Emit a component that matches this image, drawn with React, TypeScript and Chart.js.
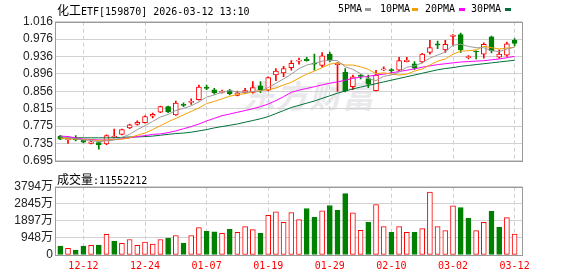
import React, { useEffect, useRef } from 'react';
import { Chart, registerables } from 'chart.js';
Chart.register(...registerables);

// ---- data ----
const dates = [
  '12-09','12-10','12-11','12-12','12-15','12-16','12-17','12-18','12-19','12-22',
  '12-23','12-24','12-25','12-26','12-29','12-30','12-31','01-05','01-06','01-07',
  '01-08','01-09','01-12','01-13','01-14','01-15','01-16','01-19','01-20','01-21',
  '01-22','01-23','01-26','01-27','01-28','01-29','01-30','02-02','02-03','02-04',
  '02-05','02-06','02-09','02-10','02-11','02-12','02-13','02-24','02-25','02-26',
  '02-27','03-02','03-03','03-04','03-05','03-06','03-09','03-10','03-11','03-12',
];
const tickDates = ['12-12','12-24','01-07','01-19','01-29','02-10','03-02','03-12'];

const openP = [
  0.752,0.744,0.748,0.743,0.735,0.737,0.734,0.749,0.756,0.771,
  0.779,0.783,0.798,0.807,0.820,0.801,0.825,0.830,0.836,0.865,
  0.859,0.853,0.857,0.846,0.853,0.853,0.868,0.858,0.893,0.898,
  0.910,0.925,0.929,0.920,0.915,0.941,0.917,0.900,0.866,0.891,
  0.885,0.857,0.905,0.905,0.904,0.924,0.919,0.923,0.945,0.965,
  0.951,0.982,0.986,0.933,0.948,0.941,0.981,0.934,0.939,0.973,
];
const highP = [
  0.754,0.746,0.753,0.744,0.740,0.738,0.755,0.768,0.768,0.780,
  0.787,0.799,0.805,0.821,0.821,0.833,0.829,0.838,0.870,0.870,
  0.862,0.858,0.860,0.856,0.862,0.878,0.878,0.889,0.908,0.913,
  0.926,0.932,0.934,0.941,0.945,0.946,0.922,0.908,0.893,0.894,
  0.893,0.904,0.912,0.908,0.934,0.934,0.924,0.943,0.973,0.971,
  0.973,0.986,0.990,0.938,0.949,0.967,0.983,0.951,0.969,0.977,
];
const lowP = [
  0.744,0.735,0.741,0.736,0.734,0.722,0.732,0.748,0.755,0.769,
  0.777,0.782,0.794,0.806,0.806,0.800,0.820,0.825,0.835,0.859,
  0.849,0.851,0.847,0.845,0.850,0.851,0.852,0.856,0.880,0.889,
  0.904,0.918,0.925,0.904,0.911,0.923,0.855,0.854,0.859,0.884,
  0.864,0.856,0.903,0.898,0.903,0.923,0.906,0.921,0.941,0.954,
  0.945,0.960,0.945,0.930,0.930,0.932,0.944,0.932,0.936,0.960,
];
const closeP = [
  0.745,0.745,0.743,0.738,0.739,0.732,0.753,0.752,0.767,0.778,
  0.784,0.797,0.802,0.820,0.808,0.828,0.823,0.832,0.865,0.862,
  0.852,0.854,0.850,0.852,0.857,0.864,0.859,0.887,0.902,0.908,
  0.920,0.927,0.926,0.918,0.937,0.928,0.920,0.856,0.889,0.890,
  0.872,0.893,0.907,0.903,0.926,0.927,0.909,0.941,0.956,0.962,
  0.964,0.985,0.951,0.934,0.946,0.964,0.949,0.941,0.965,0.966,
];
// volume in 万
const volume = [
  495,368,275,495,532,550,1155,770,642,862,
  532,715,605,862,935,1082,660,1082,1522,1320,
  1283,1210,1430,1265,1577,1412,1210,2200,2402,1815,
  2350,1962,2585,2090,2457,2750,2475,3410,2347,1375,
  1815,2805,1577,1265,1577,1265,1265,1467,3502,1577,
  1357,2732,2640,2035,1357,1815,2420,1540,2072,1155.2212,
];
const ma5 = [
  0.750,0.748,0.746,0.743,0.742,0.739,0.741,0.743,0.749,0.756,
  0.767,0.776,0.786,0.796,0.802,0.811,0.816,0.822,0.831,0.842,
  0.847,0.853,0.857,0.854,0.853,0.855,0.856,0.864,0.874,0.884,
  0.895,0.908,0.916,0.920,0.925,0.927,0.926,0.912,0.906,0.896,
  0.885,0.880,0.890,0.893,0.900,0.911,0.914,0.921,0.932,0.939,
  0.946,0.962,0.964,0.959,0.956,0.956,0.949,0.947,0.953,0.957,
];
const ma10 = [
  0.747,0.746,0.745,0.744,0.743,0.742,0.743,0.744,0.745,0.748,
  0.754,0.759,0.767,0.776,0.785,0.793,0.801,0.809,0.817,0.827,
  0.832,0.838,0.844,0.848,0.850,0.854,0.857,0.859,0.863,0.870,
  0.876,0.886,0.895,0.902,0.910,0.918,0.921,0.916,0.916,0.912,
  0.906,0.896,0.898,0.895,0.893,0.895,0.902,0.907,0.916,0.925,
  0.930,0.941,0.948,0.949,0.951,0.959,0.956,0.953,0.955,0.957,
];
const ma20 = [
  0.752,0.751,0.748,0.745,0.744,0.743,0.743,0.744,0.746,0.748,
  0.751,0.753,0.756,0.757,0.760,0.764,0.769,0.774,0.780,0.787,
  0.793,0.799,0.803,0.807,0.811,0.815,0.820,0.826,0.834,0.843,
  0.853,0.858,0.862,0.866,0.870,0.874,0.877,0.881,0.885,0.888,
  0.890,0.893,0.895,0.898,0.901,0.904,0.907,0.911,0.914,0.917,
  0.919,0.921,0.923,0.924,0.925,0.926,0.928,0.930,0.933,0.936,
];
const ma30 = [
  0.748,0.748,0.748,0.748,0.748,0.748,0.748,0.748,0.749,0.750,
  0.750,0.751,0.752,0.754,0.756,0.758,0.759,0.761,0.764,0.767,
  0.771,0.774,0.777,0.780,0.784,0.788,0.792,0.797,0.804,0.811,
  0.818,0.823,0.828,0.833,0.839,0.845,0.851,0.856,0.861,0.865,
  0.869,0.873,0.877,0.881,0.885,0.889,0.893,0.897,0.901,0.905,
  0.908,0.910,0.913,0.915,0.917,0.919,0.921,0.923,0.925,0.927,
];
const priceTicks = ['0.695','0.735','0.775','0.815','0.856','0.896','0.936','0.976','1.016'];
const volTicks = ['0','948万','1897万','2845万','3794万'];

// ---- styling ----
const RED = '#ff0000';
const GREEN = '#008000';
const C_MA5 = '#9a9a9a';
const C_MA10 = '#f5a000';
const C_MA20 = '#ff00ff';
const C_MA30 = '#00703a';
const MONO = '"DejaVu Sans Mono", "Liberation Mono", monospace';
const SANS = '"Liberation Sans", "Noto Sans CJK SC", sans-serif';
const CJK = '"Noto Sans CJK SC", sans-serif';

const framePlugin = {
  id: 'frame',
  afterDraw(chart: any) {
    const { ctx, chartArea } = chart;
    const l = Math.round(chartArea.left) + 0.5;
    const t = Math.round(chartArea.top) + 0.5;
    const r = Math.round(chartArea.right) + 0.5;
    const b = Math.round(chartArea.bottom) + 0.5;
    ctx.save();
    ctx.strokeStyle = '#9a9a9a';
    ctx.lineWidth = 1;
    ctx.strokeRect(l, t, r - l, b - t);
    ctx.restore();
  },
};

const tickIdx = tickDates.map((d) => dates.indexOf(d));
const idx = dates.map((_, i) => i);
const candleUp = idx.map((i) => closeP[i] >= openP[i]);
const volUp = idx.map((i) => i > 0 && closeP[i] >= closeP[i - 1]);

const xScaleBase = (showLabels: boolean, h: number) => ({
  type: 'linear' as const,
  min: -0.69,
  max: 60.0,
  offset: false,
  afterBuildTicks: (s: any) => {
    s.ticks = tickIdx.map((v) => ({ value: v }));
  },
  afterFit: (s: any) => {
    s.height = h;
  },
  ticks: {
    display: showLabels,
    autoSkip: false,
    maxRotation: 0,
    padding: 5,
    color: RED,
    font: { family: MONO, size: 10 },
    callback: (v: any) => dates[v as number],
  },
  grid: { color: '#cfcfcf', drawTicks: false, tickLength: 0, offset: false },
  border: { display: false, dash: [4, 3] },
});

const yScaleBase = (min: number, max: number, labels: string[]) => ({
  min,
  max,
  afterBuildTicks: (s: any) => {
    s.ticks = labels.map((_, k) => ({ value: min + (k * (max - min)) / (labels.length - 1) }));
  },
  afterFit: (s: any) => {
    s.width = 55;
  },
  ticks: {
    autoSkip: false,
    padding: 2,
    color: '#222',
    font: { family: SANS, size: 12 },
    callback: (_v: any, i: number) => labels[i],
  },
  grid: { color: '#d2d2d2', drawTicks: false, tickLength: 0 },
  border: { display: false },
});

export default function App() {
  const priceRef = useRef<HTMLCanvasElement | null>(null);
  const volRef = useRef<HTMLCanvasElement | null>(null);

  useEffect(() => {
    document.body.style.margin = '0';
    const line = (data: number[], color: string) => ({
      type: 'line' as const,
      data: data.map((v, i) => ({ x: i, y: v })),
      borderColor: color,
      borderWidth: 1,
      pointRadius: 0,
      tension: 0,
      order: 1,
    });
    const price = new Chart(priceRef.current as HTMLCanvasElement, {
      type: 'bar',
      data: {
        datasets: [
          line(ma5, C_MA5),
          line(ma10, C_MA10),
          line(ma20, C_MA20),
          line(ma30, C_MA30),
          {
            type: 'bar',
            data: idx.map((i) => ({ x: i, y: [openP[i], closeP[i]] })),
            backgroundColor: idx.map((i) => (candleUp[i] ? '#ffffff' : GREEN)),
            borderColor: idx.map((i) => (candleUp[i] ? RED : GREEN)),
            borderWidth: 1,
            borderSkipped: false,
            barThickness: 5,
            grouped: false,
            minBarLength: 1,
            order: 5,
          } as any,
          {
            type: 'bar',
            data: idx.map((i) => ({ x: i, y: [lowP[i], highP[i]] })),
            backgroundColor: idx.map((i) => (candleUp[i] ? RED : GREEN)),
            borderWidth: 0,
            barThickness: 1,
            grouped: false,
            minBarLength: 1,
            order: 6,
          } as any,
        ],
      },
      options: {
        animation: false,
        responsive: false,
        maintainAspectRatio: false,
        layout: { padding: { top: 21.7, right: 55.7, bottom: 5.3, left: 0 } },
        plugins: { legend: { display: false }, tooltip: { enabled: false } },
        scales: {
          x: xScaleBase(false, 0) as any,
          y: yScaleBase(0.695, 1.016, priceTicks) as any,
        },
      },
      plugins: [framePlugin],
    });

    const vol = new Chart(volRef.current as HTMLCanvasElement, {
      type: 'bar',
      data: {
        datasets: [
          {
            data: idx.map((i) => ({ x: i, y: volume[i] })),
            backgroundColor: idx.map((i) => (volUp[i] ? '#ffffff' : GREEN)),
            borderColor: idx.map((i) => (volUp[i] ? RED : GREEN)),
            borderWidth: 1,
            borderSkipped: false,
            barThickness: 5,
            grouped: false,
          } as any,
        ],
      },
      options: {
        animation: false,
        responsive: false,
        maintainAspectRatio: false,
        layout: { padding: { top: 11.7, right: 55.7, bottom: 0, left: 0 } },
        plugins: { legend: { display: false }, tooltip: { enabled: false } },
        scales: {
          x: xScaleBase(true, 21) as any,
          y: yScaleBase(0, 3794, volTicks) as any,
        },
      },
      plugins: [framePlugin],
    });

    return () => {
      price.destroy();
      vol.destroy();
    };
  }, []);

  const legendItem = (label: string, color: string, left: number, dashLeft: number) => (
    <React.Fragment key={label}>
      <div style={{ position: 'absolute', left, top: 2, font: `10px ${MONO}`, color: '#000', lineHeight: '14px' }}>
        {label}
      </div>
      <div style={{ position: 'absolute', left: dashLeft, top: 8, width: 6, height: 3, background: color }} />
    </React.Fragment>
  );

  return (
    <div style={{ position: 'relative', width: 578, height: 276, background: '#fff', overflow: 'hidden' }}>
      <div
        style={{
          position: 'absolute',
          left: 243,
          top: 74,
          font: `bold 32px ${CJK}`,
          color: '#e9e9ec',
          letterSpacing: 1,
          fontStyle: 'italic',
          lineHeight: '40px',
        }}
      >
        东方财富
      </div>
      <canvas ref={priceRef} width={578} height={170} style={{ position: 'absolute', left: 0, top: 0 }} />
      <canvas ref={volRef} width={578} height={101} style={{ position: 'absolute', left: 0, top: 175 }} />
      <div style={{ position: 'absolute', left: 57, top: 1, lineHeight: '14px', color: '#000', whiteSpace: 'nowrap' }}>
        <span style={{ font: `12px ${CJK}` }}>化工</span>
        <span style={{ font: `10px ${MONO}` }}>ETF[159870] 2026-03-12 13:10</span>
      </div>
      {legendItem('5PMA', C_MA5, 338, 365)}
      {legendItem('10PMA', C_MA10, 380, 412)}
      {legendItem('20PMA', C_MA20, 425, 459)}
      {legendItem('30PMA', C_MA30, 471, 505)}
      <div style={{ position: 'absolute', left: 57, top: 170, lineHeight: '14px', color: '#000', whiteSpace: 'nowrap' }}>
        <span style={{ font: `12px ${CJK}` }}>成交量</span>
        <span style={{ font: `10px ${MONO}` }}>:11552212</span>
      </div>
    </div>
  );
}
